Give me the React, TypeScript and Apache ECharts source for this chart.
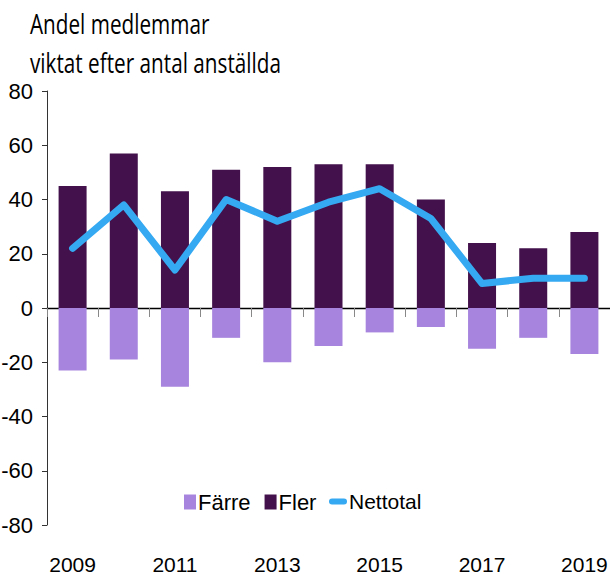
import React, { useEffect, useRef } from "react";
import * as echarts from "echarts";

const years = ["2009", "2010", "2011", "2012", "2013", "2014", "2015", "2016", "2017", "2018", "2019"];
const farre = [-23, -19, -29, -11, -20, -14, -9, -7, -15, -11, -17];
const fler = [45, 57, 43, 51, 52, 53, 53, 40, 24, 22, 28];
const nettotal = [22, 38, 14, 40, 32, 39, 44, 33, 9, 11, 11];
const titleLines = ["Andel medlemmar", "viktat efter antal anställda"];

const SANS = "'Liberation Sans', Arial, sans-serif";
const LINE_ICON = "path://M3,0 H15 A3,3 0 0 1 15,6 H3 A3,3 0 0 1 3,0 Z";

export default function App() {
  const ref = useRef<HTMLDivElement>(null);
  useEffect(() => {
    if (!ref.current) return;
    const chart = echarts.init(ref.current, null, { renderer: "svg" });
    chart.setOption({
      animation: false,
      backgroundColor: "#ffffff",
      graphic: titleLines.map((t, i) => ({
        type: "text",
        x: 30,
        y: 9 + i * 39,
        scaleX: 0.74,
        style: { text: t, fill: "#000", font: "28px 'Open Sans', sans-serif" },
      })),
      legend: [
        {
          top: 491,
          left: 184,
          padding: 0,
          itemGap: 14,
          itemWidth: 12,
          itemHeight: 15,
          textStyle: { fontFamily: SANS, fontSize: 22, color: "#000", padding: [0, 0, 0, -3] },
          data: [
            { name: "Färre", icon: "rect" },
            { name: "Fler", icon: "rect" },
          ],
        },
        {
          top: 491,
          left: 329,
          padding: 0,
          itemWidth: 18,
          itemHeight: 6,
          textStyle: { fontFamily: SANS, fontSize: 21, color: "#000", padding: [0, 0, 0, -3] },
          data: [{ name: "Nettotal", icon: LINE_ICON }],
        },
      ],
      grid: { left: 47, right: 0, top: 91, bottom: 62, containLabel: false, outerBoundsMode: "none" },
      xAxis: [
        {
          type: "category",
          data: years,
          position: "bottom",
          axisLine: { show: false, onZero: false },
          axisTick: { show: false },
          axisLabel: { interval: 1, fontFamily: SANS, fontSize: 21, color: "#000", margin: 29 },
        },
        {
          type: "category",
          data: years,
          position: "bottom",
          axisLine: { show: true, onZero: true, lineStyle: { color: "#000", width: 1.3 } },
          axisTick: { show: true, length: 9, lineStyle: { color: "#888", width: 1 } },
          axisLabel: { show: false },
        },
      ],
      yAxis: {
        type: "value",
        min: -80,
        max: 80,
        interval: 20,
        splitLine: { show: false },
        axisLine: { show: true, lineStyle: { color: "#333", width: 1 } },
        axisTick: { show: true, length: 5, lineStyle: { color: "#333" } },
        axisLabel: { fontFamily: SANS, fontSize: 22, color: "#000", margin: 14 },
      },
      series: [
        {
          name: "Färre",
          type: "bar",
          stack: "a",
          barWidth: 28,
          data: farre,
          itemStyle: { color: "#A785DE" },
        },
        {
          name: "Fler",
          type: "bar",
          stack: "a",
          barWidth: 28,
          data: fler,
          itemStyle: { color: "#43114B" },
        },
        {
          name: "Nettotal",
          type: "line",
          data: nettotal,
          symbol: "none",
          lineStyle: { color: "#35A9F2", width: 7, cap: "round", join: "round" },
          itemStyle: { color: "#35A9F2" },
        },
      ],
    });
    return () => chart.dispose();
  }, []);
  return <div ref={ref} style={{ position: "fixed", left: 0, top: 0, width: 610, height: 587 }} />;
}
